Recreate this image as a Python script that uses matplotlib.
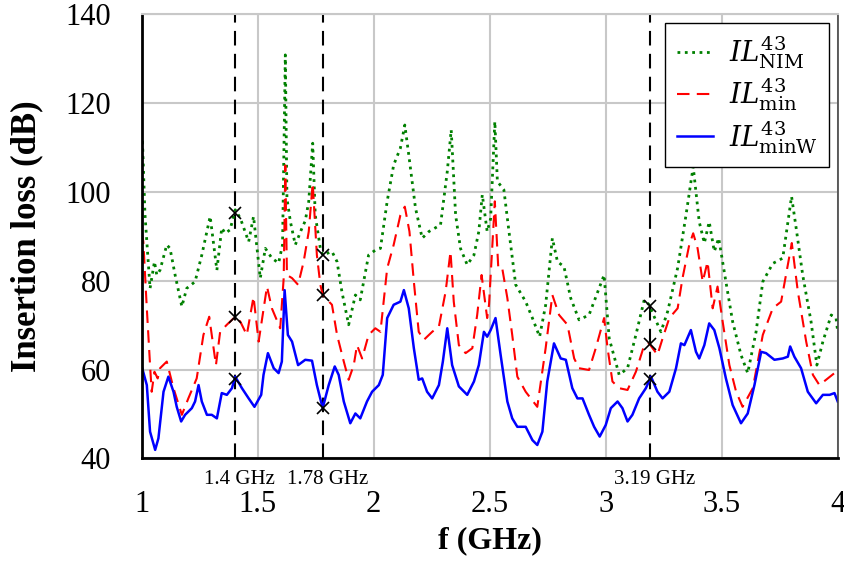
import numpy as np
import matplotlib.pyplot as plt

plt.rcParams['font.family'] = ['Liberation Serif', 'DejaVu Serif']
plt.rcParams['mathtext.fontset'] = 'dejavuserif'

# insertion loss IL43, NIM case (GHz, dB)
f_nim = [1.000, 1.003, 1.014, 1.036, 1.055, 1.065, 1.079, 1.108, 1.122, 1.144,
         1.173, 1.194, 1.230, 1.259, 1.295, 1.324, 1.345, 1.360, 1.381, 1.403,
         1.425, 1.461, 1.482, 1.511, 1.533, 1.561, 1.590, 1.607, 1.619, 1.626,
         1.641, 1.662, 1.691, 1.705, 1.720, 1.737, 1.748, 1.770, 1.780, 1.820,
         1.842, 1.863, 1.892, 1.921, 1.942, 1.978, 2.007, 2.029, 2.058, 2.086,
         2.115, 2.134, 2.151, 2.180, 2.209, 2.238, 2.288, 2.317, 2.334, 2.353,
         2.374, 2.403, 2.432, 2.453, 2.468, 2.489, 2.504, 2.522, 2.533, 2.561,
         2.583, 2.612, 2.655, 2.684, 2.715, 2.741, 2.770, 2.792, 2.820, 2.849,
         2.885, 2.928, 2.993, 3.015, 3.058, 3.094, 3.130, 3.166, 3.187, 3.209,
         3.238, 3.267, 3.310, 3.346, 3.377, 3.403, 3.425, 3.446, 3.468, 3.487,
         3.518, 3.547, 3.583, 3.612, 3.648, 3.677, 3.720, 3.763, 3.801, 3.821,
         3.849, 3.885, 3.910, 3.936, 3.972, 3.993, 4.000]
il_nim = [106.0, 112.0, 95.0, 78.3, 84.3, 81.3, 82.4, 88.1, 87.3, 81.3,
          74.2, 78.3, 79.8, 85.8, 94.5, 82.4, 91.9, 90.7, 91.5, 96.0,
          94.1, 88.8, 94.5, 80.6, 87.3, 85.1, 84.0, 88.1, 130.9, 98.6,
          93.3, 88.1, 91.9, 93.5, 97.9, 111.0, 94.8, 87.3, 85.8, 86.6,
          84.3, 77.5, 70.1, 76.8, 75.7, 85.8, 86.9, 87.3, 97.9, 106.1,
          109.9, 115.1, 108.4, 96.4, 89.6, 91.1, 92.6, 104.6, 114.0, 94.8,
          87.3, 83.6, 85.8, 91.1, 99.4, 91.1, 94.0, 115.9, 102.4, 100.5,
          91.1, 79.1, 75.3, 71.6, 67.4, 74.5, 89.6, 84.3, 83.2, 76.1,
          71.2, 72.3, 81.3, 67.0, 58.8, 60.3, 67.8, 75.7, 74.6, 71.9,
          68.5, 73.1, 82.9, 94.8, 105.7, 93.3, 88.5, 93.3, 86.6, 89.6,
          79.8, 70.8, 63.3, 59.2, 68.5, 79.8, 83.9, 85.1, 99.0, 91.8,
          81.3, 70.8, 61.0, 66.3, 72.3, 71.5, 68.5]

# IL43 min
f_min = [1.000, 1.007, 1.022, 1.036, 1.043, 1.055, 1.069, 1.079, 1.108, 1.137,
         1.173, 1.201, 1.237, 1.266, 1.291, 1.320, 1.338, 1.367, 1.403, 1.425,
         1.453, 1.482, 1.504, 1.540, 1.561, 1.597, 1.612, 1.619, 1.626, 1.648,
         1.674, 1.698, 1.720, 1.737, 1.755, 1.770, 1.780, 1.820, 1.842, 1.871,
         1.892, 1.914, 1.928, 1.950, 1.978, 2.007, 2.029, 2.058, 2.086, 2.115,
         2.134, 2.154, 2.173, 2.194, 2.216, 2.252, 2.281, 2.310, 2.331, 2.345,
         2.367, 2.396, 2.425, 2.446, 2.465, 2.489, 2.497, 2.522, 2.537, 2.554,
         2.576, 2.597, 2.619, 2.655, 2.705, 2.741, 2.770, 2.799, 2.835, 2.864,
         2.885, 2.928, 2.957, 2.993, 3.008, 3.029, 3.058, 3.094, 3.130, 3.166,
         3.187, 3.223, 3.245, 3.274, 3.310, 3.331, 3.360, 3.377, 3.396, 3.418,
         3.439, 3.461, 3.482, 3.504, 3.533, 3.562, 3.590, 3.634, 3.677, 3.720,
         3.756, 3.802, 3.828, 3.864, 3.893, 3.921, 3.957, 3.986, 4.000]
il_min = [91.1, 88.8, 73.8, 61.0, 55.0, 59.5, 58.0, 60.3, 61.8, 55.8,
          49.8, 53.5, 58.0, 67.8, 71.9, 61.0, 68.5, 70.1, 71.9, 70.8,
          67.8, 76.4, 66.3, 78.7, 73.8, 69.3, 80.6, 106.0, 81.3, 80.6,
          79.1, 84.3, 91.1, 102.0, 85.8, 79.1, 76.8, 74.6, 67.8, 61.8,
          57.7, 61.0, 65.5, 62.5, 67.8, 69.3, 68.5, 82.8, 88.1, 94.8,
          96.7, 91.1, 79.8, 68.5, 66.7, 68.5, 69.7, 77.6, 86.6, 75.3,
          65.5, 63.7, 64.8, 72.3, 81.3, 71.6, 74.6, 97.9, 82.8, 82.8,
          76.1, 67.8, 58.4, 55.0, 51.6, 64.8, 76.8, 72.3, 70.1, 62.5,
          60.3, 59.9, 64.8, 71.6, 64.8, 57.3, 55.8, 55.4, 59.5, 65.5,
          65.9, 63.3, 67.0, 71.6, 73.8, 80.6, 88.1, 90.7, 87.3, 79.8,
          84.3, 73.8, 78.7, 70.8, 61.0, 55.0, 51.6, 55.8, 67.8, 73.8,
          75.3, 88.5, 77.6, 66.3, 58.8, 56.5, 58.0, 59.2, 58.0]

# IL43 minW
f_minw = [1.000, 1.022, 1.036, 1.058, 1.072, 1.094, 1.115, 1.137, 1.151, 1.170,
          1.187, 1.216, 1.230, 1.245, 1.259, 1.281, 1.302, 1.324, 1.345, 1.367,
          1.389, 1.403, 1.432, 1.461, 1.486, 1.515, 1.525, 1.544, 1.569, 1.590,
          1.604, 1.616, 1.630, 1.648, 1.674, 1.705, 1.734, 1.755, 1.780, 1.806,
          1.832, 1.849, 1.871, 1.899, 1.921, 1.942, 1.971, 1.993, 2.022, 2.039,
          2.058, 2.086, 2.115, 2.130, 2.151, 2.173, 2.194, 2.209, 2.230, 2.252,
          2.281, 2.298, 2.317, 2.338, 2.367, 2.403, 2.432, 2.453, 2.475, 2.489,
          2.504, 2.525, 2.547, 2.576, 2.597, 2.619, 2.655, 2.684, 2.705, 2.727,
          2.748, 2.777, 2.806, 2.828, 2.856, 2.878, 2.900, 2.928, 2.950, 2.974,
          3.000, 3.022, 3.051, 3.072, 3.094, 3.115, 3.144, 3.173, 3.195, 3.223,
          3.245, 3.274, 3.303, 3.324, 3.339, 3.367, 3.389, 3.403, 3.425, 3.446,
          3.468, 3.490, 3.518, 3.547, 3.583, 3.612, 3.641, 3.670, 3.691, 3.727,
          3.763, 3.785, 3.795, 3.813, 3.842, 3.871, 3.907, 3.936, 3.965, 3.986,
          4.000]
il_minw = [60.7, 56.5, 46.0, 41.9, 44.5, 55.0, 58.4, 55.0, 51.6, 48.3,
           49.8, 51.3, 52.8, 56.5, 52.8, 49.8, 49.8, 49.0, 54.7, 54.3,
           55.8, 58.4, 55.8, 53.5, 51.6, 54.3, 58.8, 63.7, 60.3, 59.2,
           61.8, 77.9, 67.8, 66.3, 61.0, 62.2, 62.0, 56.5, 51.3, 56.5,
           60.7, 58.8, 52.8, 47.9, 50.1, 49.0, 52.8, 55.0, 56.5, 58.8,
           71.6, 74.6, 75.3, 77.9, 73.8, 64.8, 57.7, 58.0, 55.0, 53.5,
           56.5, 61.8, 69.3, 61.0, 56.2, 54.3, 57.3, 61.0, 68.5, 67.4,
           68.9, 71.6, 63.3, 52.8, 49.0, 47.1, 47.1, 44.1, 43.0, 46.0,
           57.3, 65.9, 62.5, 62.2, 55.8, 53.5, 53.5, 49.8, 47.1, 44.9,
           47.5, 51.3, 52.8, 51.3, 48.3, 49.8, 53.5, 55.8, 58.4, 55.0,
           53.5, 55.0, 60.3, 65.9, 65.5, 68.9, 64.0, 62.5, 65.5, 70.4,
           68.9, 64.8, 58.0, 52.0, 47.9, 50.1, 56.5, 64.0, 63.7, 62.2,
           62.5, 62.9, 65.2, 62.9, 60.3, 55.0, 52.4, 54.3, 54.3, 54.7,
           52.8]

marked_freqs = [1.4, 1.78, 3.19]
marked_labels = ['1.4 GHz', '1.78 GHz', '3.19 GHz']

fig = plt.figure(figsize=(8.45, 5.62), dpi=100)
ax = fig.add_axes([0.1677, 0.1845, 0.8237, 0.7897])

ax.plot(f_nim, il_nim, ':', color='#008000', lw=2.0, label=r'$\mathit{IL}^{43}_{\mathrm{NIM}}$')
ax.plot(f_min, il_min, '--', color='#ff0000', lw=1.5, dashes=(6, 3.5), label=r'$\mathit{IL}^{43}_{\mathrm{min}}$')
ax.plot(f_minw, il_minw, '-', color='#0000ff', lw=1.8, label=r'$\mathit{IL}^{43}_{\mathrm{minW}}$')

# vertical markers at the frequencies of interest, with crosses on each curve
for fm, lab in zip(marked_freqs, marked_labels):
    ax.axvline(fm, color='black', lw=1.5, dashes=(7, 4), zorder=1)
    for fx, ys in ((f_nim, il_nim), (f_min, il_min), (f_minw, il_minw)):
        ax.plot(fm, np.interp(fm, fx, ys), 'x', color='black', ms=8, mew=1.2, zorder=5)
    ax.text(fm + 0.02, 37.3, lab, ha='center', va='top', fontsize=15)

ax.set_xlim(1, 4)
ax.set_ylim(40, 140)
ax.set_xticks([1, 1.5, 2, 2.5, 3, 3.5, 4])
ax.set_xticklabels(['1', '1.5', '2', '2.5', '3', '3.5', '4'])
ax.set_yticks([40, 60, 80, 100, 120, 140])
ax.tick_params(length=0, labelsize=22)
ax.tick_params(axis='x', pad=23)
ax.tick_params(axis='y', pad=22)
ax.grid(True, color='#c8c8c8', lw=1.5)
ax.set_axisbelow(True)

for side in ('left', 'bottom'):
    ax.spines[side].set_linewidth(2.0)
    ax.spines[side].set_color('black')
ax.spines['top'].set_color('#c8c8c8')
ax.spines['top'].set_linewidth(1.5)
ax.spines['right'].set_color('#444444')
ax.spines['right'].set_linewidth(1.2)

ax.set_xlabel('f (GHz)', fontsize=23, fontweight='bold', labelpad=5)
ax.set_ylabel('Insertion loss (dB)', fontsize=25, fontweight='bold', labelpad=16)

leg = ax.legend(loc='upper right', fontsize=20, handlelength=1.3, frameon=True,
                fancybox=False, edgecolor='black', framealpha=1,
                borderaxespad=0.3, labelspacing=0.2, handletextpad=0.6)
leg.get_frame().set_linewidth(1.0)

fig.savefig('out.png', dpi=100)
